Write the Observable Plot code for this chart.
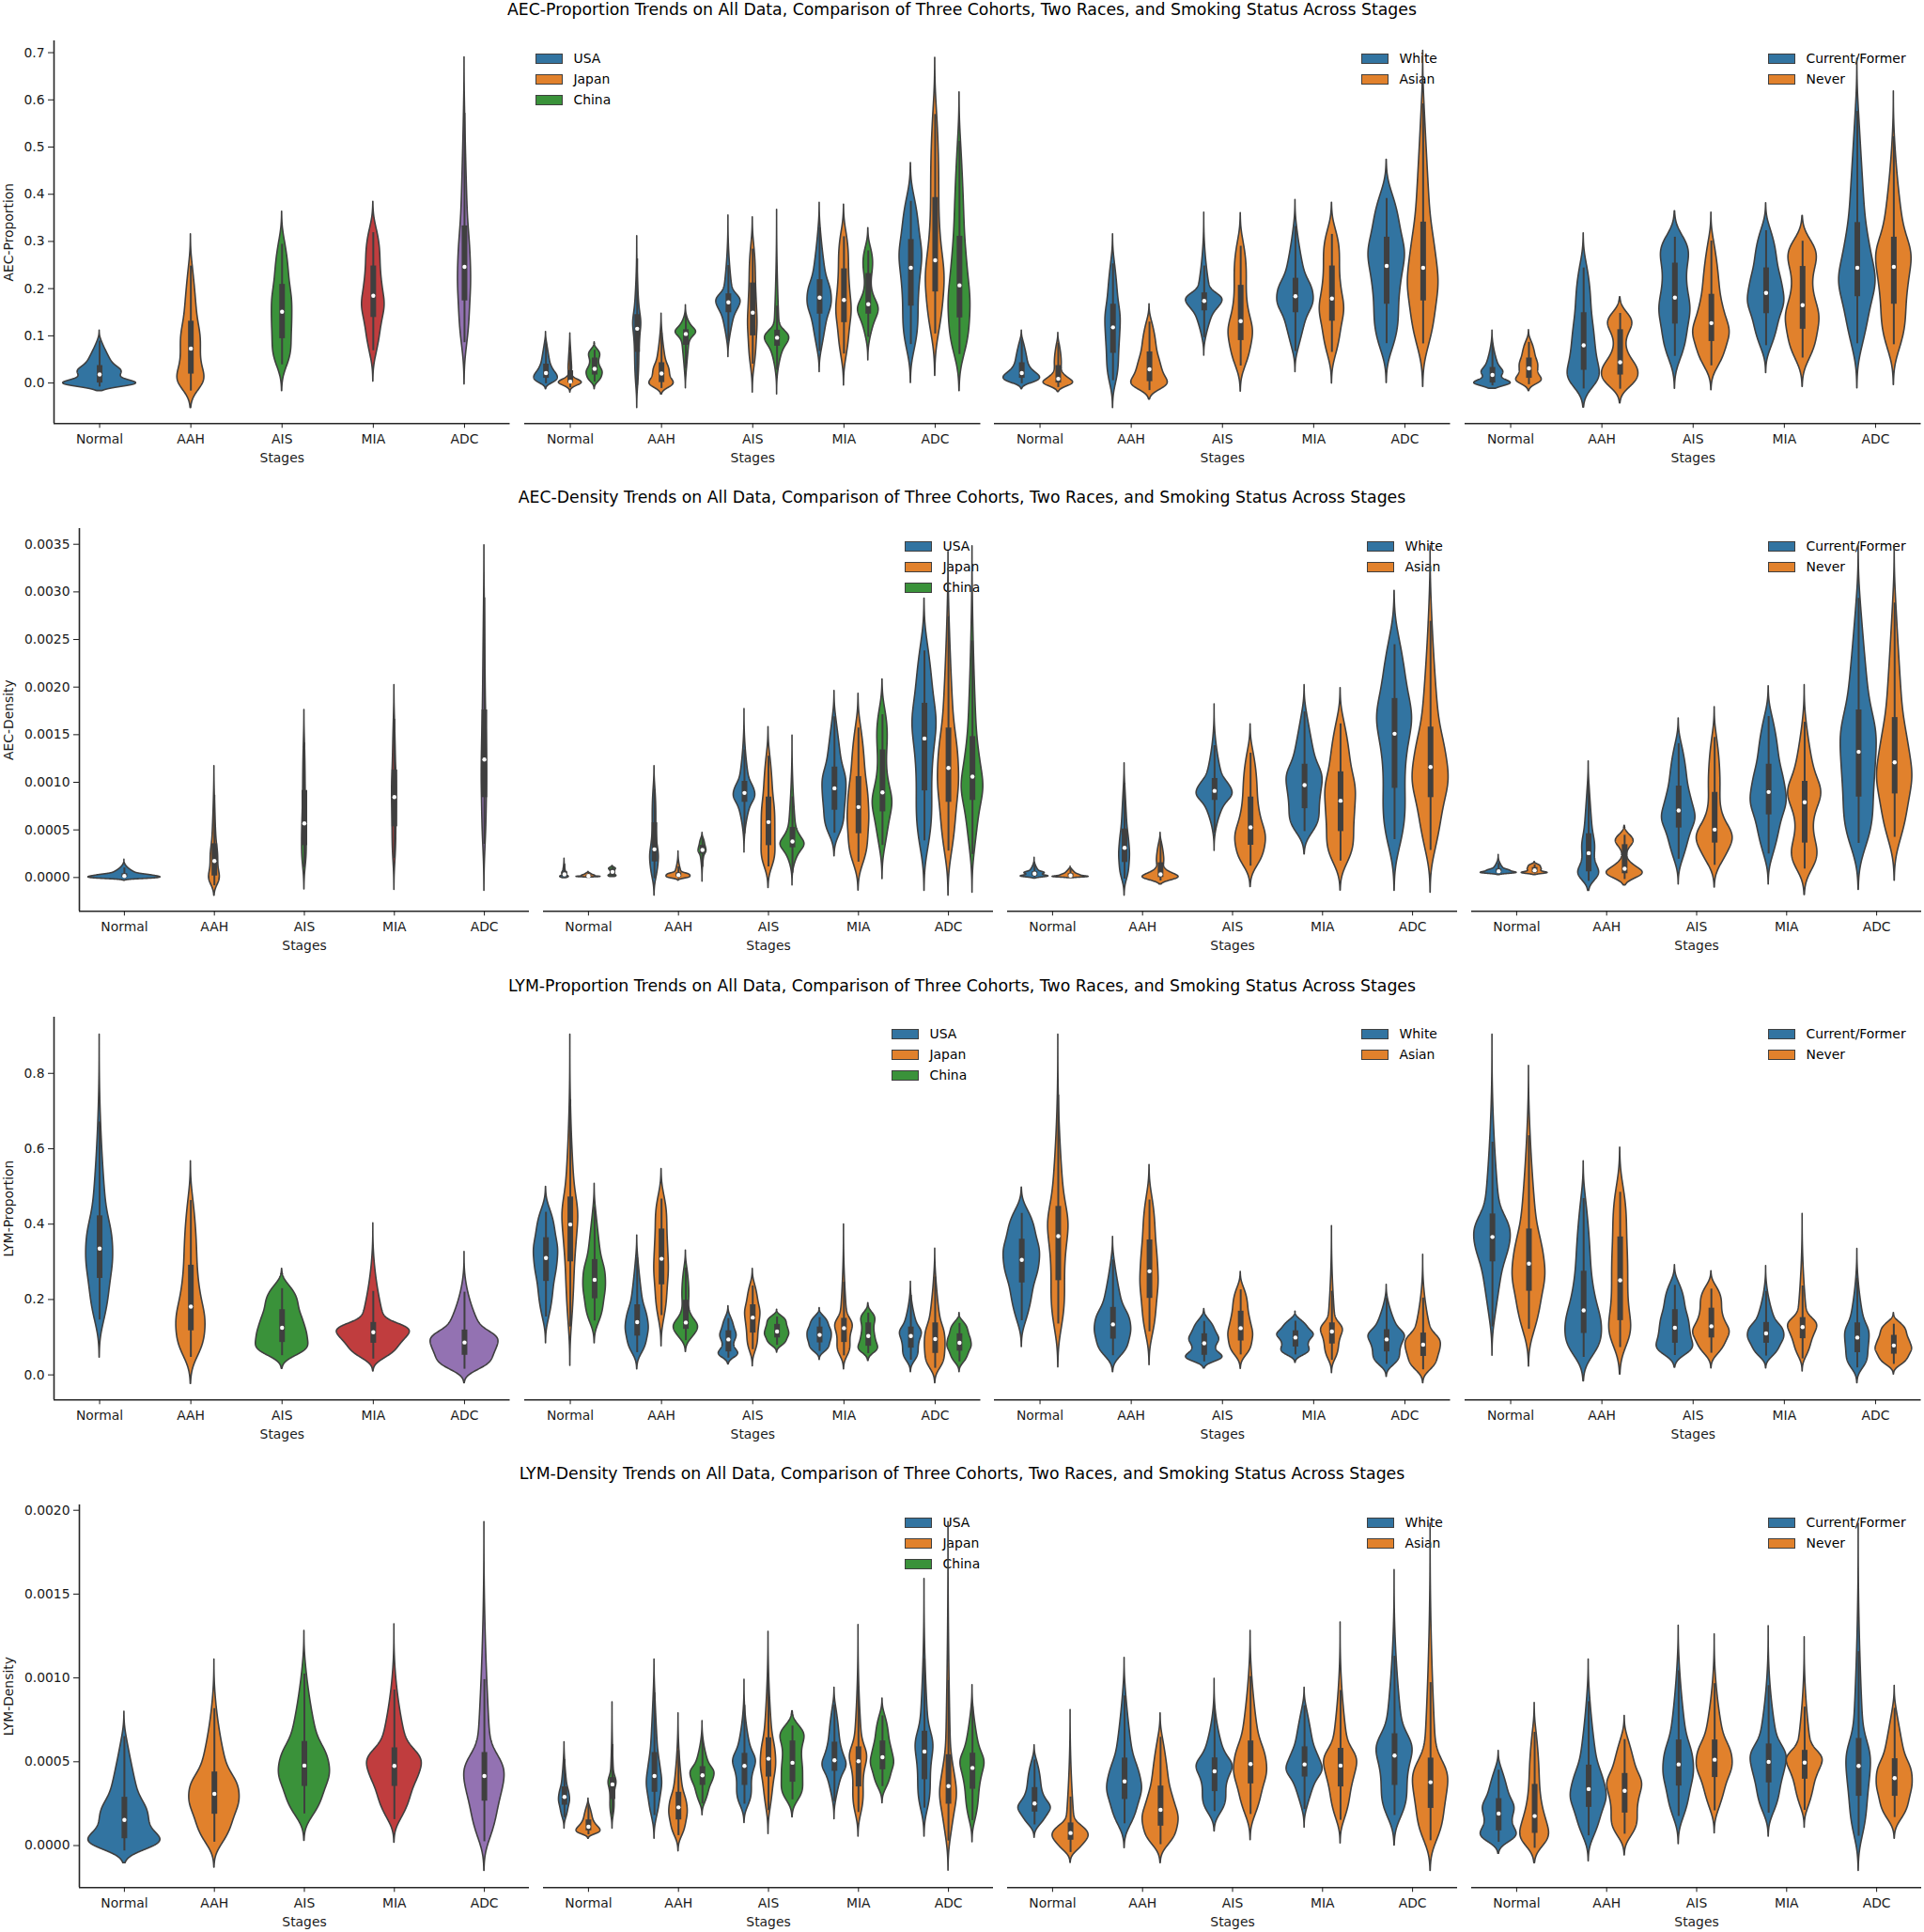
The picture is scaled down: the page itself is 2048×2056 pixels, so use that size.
<!DOCTYPE html>
<html><head><meta charset="utf-8">
<script src="https://cdn.jsdelivr.net/npm/d3@7"></script>
<script src="https://cdn.jsdelivr.net/npm/@observablehq/plot@0.6"></script>
<style>
body{margin:0;background:#fff;}
#fig{position:relative;width:2048px;height:2056px;font-family:"DejaVu Sans",sans-serif;color:#000;background:#fff;overflow:hidden;}
.title{position:absolute;left:0;width:2048px;text-align:center;font-size:17.3px;line-height:20px;white-space:nowrap;}
.panel{position:absolute;}
.lp{position:absolute;width:29px;height:11px;box-sizing:border-box;border:1px solid #3f3f3f;}
.lt{position:absolute;font-size:13.9px;line-height:16px;white-space:nowrap;}
</style></head><body><div id="fig"></div>
<script>
// ---- categories ----
const stages = ["Normal", "AAH", "AIS", "MIA", "ADC"];
const cohorts = ["USA", "Japan", "China"];
const races = ["White", "Asian"];
const smoking = ["Current/Former", "Never"];
const palette = ["#3274a1", "#e1812c", "#3a923a", "#c03d3e", "#9372b2"];

// ---- each violin, one per stage: [bottom tip, Q1, median, Q3, top tip, widest extent as share of its slot] ----
// AEC-Proportion
const aecPropAll = [[-0.017,0.0,0.018,0.037,0.111,1.0],[-0.053,0.019,0.073,0.131,0.315,0.37],[-0.017,0.094,0.151,0.209,0.363,0.28],[0.003,0.139,0.185,0.248,0.384,0.31],[-0.003,0.174,0.246,0.333,0.690,0.18]];
const aecPropUSA = [[-0.013,0.010,0.021,0.040,0.108,0.97],[-0.053,0.065,0.115,0.145,0.311,0.33],[0.055,0.149,0.171,0.189,0.355,1.0],[0.023,0.146,0.181,0.219,0.382,1.0],[0.0,0.163,0.244,0.304,0.466,0.93]];
const aecPropJapan = [[-0.020,0.0,0.003,0.026,0.105,0.94],[-0.024,0.001,0.020,0.043,0.147,1.0],[-0.020,0.100,0.149,0.212,0.351,0.39],[-0.005,0.128,0.176,0.242,0.378,0.63],[0.015,0.193,0.260,0.393,0.689,0.77]];
const aecPropChina = [[-0.013,0.017,0.030,0.053,0.086,0.66],[-0.011,0.080,0.104,0.113,0.165,0.84],[-0.024,0.078,0.096,0.112,0.367,1.0],[0.048,0.146,0.167,0.232,0.328,0.85],[-0.017,0.138,0.207,0.311,0.616,0.9]];
const aecPropWhite = [[-0.013,0.010,0.021,0.043,0.111,1.0],[-0.053,0.063,0.118,0.167,0.315,0.42],[0.058,0.153,0.174,0.191,0.361,1.0],[0.023,0.149,0.184,0.222,0.388,1.0],[0.0,0.167,0.248,0.309,0.473,1.0]];
const aecPropAsian = [[-0.019,0.0,0.009,0.037,0.106,0.81],[-0.035,0.003,0.029,0.066,0.167,1.0],[-0.018,0.090,0.131,0.207,0.360,0.67],[-0.001,0.131,0.179,0.248,0.382,0.67],[-0.008,0.174,0.244,0.341,0.704,0.84]];
const aecPropSmoker = [[-0.012,0.0,0.017,0.033,0.111,1.0],[-0.052,0.027,0.080,0.149,0.317,0.88],[-0.012,0.125,0.181,0.254,0.364,0.85],[0.021,0.147,0.191,0.244,0.381,1.0],[-0.011,0.183,0.244,0.340,0.687,1.0]];
const aecPropNever = [[-0.017,0.010,0.031,0.053,0.112,0.7],[-0.043,0.017,0.044,0.113,0.182,1.0],[-0.015,0.088,0.127,0.188,0.361,1.0],[-0.008,0.114,0.165,0.247,0.354,0.92],[-0.004,0.167,0.246,0.309,0.618,0.97]];
// AEC-Density
const aecDensAll = [[-0.000033,0.0,0.000016,0.00004,0.000187,1.0],[-0.00019,0.000016,0.000174,0.000355,0.00117,0.15],[-0.000125,0.000335,0.000569,0.000914,0.00176,0.065],[-0.00013,0.000533,0.000845,0.00113,0.00202,0.065],[-0.00014,0.000839,0.00124,0.00176,0.00349,0.075]];
const aecDensUSA = [[-0.000007,0.000007,0.000033,0.00006,0.000197,0.36],[-0.00019,0.000164,0.000296,0.000575,0.00117,0.36],[0.000263,0.00079,0.000888,0.00101,0.00177,0.9],[0.000224,0.000707,0.000937,0.00116,0.00196,1.0],[-0.00014,0.00091,0.00146,0.00183,0.00293,1.0]];
const aecDensJapan = [[0.0,0.000007,0.000016,0.000026,0.00006,1.0],[-0.000033,0.000007,0.000026,0.000049,0.000273,1.0],[-0.000109,0.000335,0.000582,0.000845,0.00158,0.58],[-0.000138,0.00046,0.00074,0.00106,0.00193,0.9],[-0.00019,0.00079,0.00115,0.00157,0.00342,0.88]];
const aecDensChina = [[0.000007,0.000016,0.000059,0.000089,0.000122,0.33],[-0.000043,0.000247,0.00029,0.000339,0.00047,0.33],[-0.000082,0.000312,0.000378,0.000526,0.00149,1.0],[-0.000016,0.00069,0.000894,0.00134,0.00208,0.82],[-0.00016,0.00081,0.00106,0.00148,0.00348,0.9]];
const aecDensWhite = [[-0.00001,0.000013,0.00004,0.00006,0.000207,0.77],[-0.00019,0.000158,0.000312,0.00051,0.0012,0.3],[0.00028,0.00081,0.00091,0.00104,0.00182,1.0],[0.000243,0.000723,0.00097,0.00119,0.00202,1.0],[-0.00014,0.000937,0.00151,0.00188,0.00301,0.97]];
const aecDensAsian = [[-0.000007,0.000007,0.00002,0.00004,0.000115,1.0],[-0.000072,0.0,0.000033,0.000155,0.00047,1.0],[-0.0001,0.000339,0.000526,0.000845,0.00161,0.85],[-0.000138,0.000483,0.000806,0.00111,0.00199,0.85],[-0.00016,0.000839,0.00116,0.00158,0.00348,1.0]];
const aecDensSmoker = [[0.000026,0.000049,0.000066,0.000089,0.000237,1.0],[-0.00014,0.00006,0.000256,0.00046,0.00122,0.58],[-0.000072,0.00052,0.000704,0.00096,0.00167,0.93],[-0.000072,0.000658,0.000898,0.00119,0.00201,1.0],[-0.00013,0.000845,0.00132,0.00176,0.00348,1.0]];
const aecDensNever = [[0.000026,0.000049,0.000076,0.000105,0.000164,0.72],[-0.000082,0.00004,0.000092,0.000345,0.000542,1.0],[-0.000105,0.000362,0.000503,0.000894,0.00179,1.0],[-0.000184,0.000362,0.00079,0.00101,0.00202,0.92],[-0.000033,0.000878,0.00121,0.00168,0.00348,0.98]];
// LYM-Proportion
const lymPropAll = [[0.046,0.256,0.335,0.422,0.903,0.37],[-0.024,0.117,0.181,0.291,0.567,0.40],[0.016,0.086,0.125,0.173,0.281,0.72],[0.009,0.084,0.113,0.139,0.402,1.0],[-0.022,0.052,0.086,0.119,0.326,0.93]];
const lymPropUSA = [[0.084,0.248,0.31,0.364,0.499,1.0],[0.015,0.103,0.140,0.186,0.370,0.95],[0.028,0.061,0.094,0.117,0.182,0.8],[0.040,0.085,0.106,0.127,0.177,1.0],[0.007,0.071,0.103,0.127,0.247,0.9]];
const lymPropJapan = [[0.024,0.30,0.399,0.472,0.903,0.65],[0.076,0.239,0.308,0.387,0.546,0.6],[0.023,0.111,0.152,0.186,0.281,0.63],[0.015,0.086,0.124,0.150,0.399,0.72],[-0.022,0.057,0.095,0.138,0.335,0.85]];
const lymPropChina = [[0.084,0.202,0.252,0.306,0.507,0.93],[0.061,0.121,0.139,0.198,0.330,1.0],[0.059,0.098,0.115,0.134,0.173,1.0],[0.037,0.076,0.103,0.138,0.190,0.8],[0.007,0.063,0.085,0.109,0.164,1.0]];
const lymPropWhite = [[0.074,0.244,0.305,0.360,0.497,1.0],[0.007,0.095,0.134,0.179,0.366,1.0],[0.017,0.052,0.084,0.109,0.175,1.0],[0.032,0.074,0.099,0.117,0.168,1.0],[-0.005,0.061,0.094,0.120,0.239,1.0]];
const lymPropAsian = [[0.020,0.250,0.368,0.447,0.903,0.56],[0.026,0.203,0.275,0.358,0.557,0.5],[0.016,0.090,0.124,0.169,0.273,0.68],[0.005,0.082,0.115,0.138,0.395,0.6],[-0.022,0.049,0.080,0.111,0.319,0.97]];
const lymPropSmoker = [[0.051,0.30,0.366,0.427,0.903,1.0],[-0.017,0.110,0.171,0.275,0.567,1.0],[0.019,0.084,0.125,0.173,0.291,1.0],[0.017,0.084,0.110,0.139,0.289,1.0],[-0.022,0.059,0.099,0.138,0.334,0.67]];
const lymPropNever = [[0.022,0.222,0.295,0.387,0.820,0.9],[0.001,0.144,0.251,0.366,0.603,0.6],[0.017,0.098,0.129,0.177,0.275,1.0],[0.009,0.096,0.127,0.152,0.427,0.8],[0.001,0.055,0.078,0.105,0.164,1.0]];
// LYM-Density
const lymDensAll = [[-0.000105,0.000041,0.000153,0.000288,0.000798,1.0],[-0.000131,0.000187,0.000308,0.000439,0.00111,0.70],[0.000028,0.000353,0.000477,0.000621,0.00128,0.71],[0.000017,0.000353,0.000475,0.000583,0.00132,0.76],[-0.000151,0.000265,0.000415,0.000555,0.00193,0.56]];
const lymDensUSA = [[0.000101,0.000241,0.00029,0.00035,0.000617,0.46],[0.000041,0.000318,0.000415,0.000555,0.00111,0.64],[0.000135,0.000359,0.000475,0.00055,0.000989,0.95],[0.000157,0.000443,0.000509,0.000617,0.000942,1.0],[0.000054,0.000393,0.000561,0.000682,0.00159,0.74]];
const lymDensJapan = [[0.000041,0.000088,0.000112,0.000153,0.00028,1.0],[-0.000034,0.000153,0.000228,0.000318,0.000789,0.77],[0.000069,0.000409,0.000518,0.000643,0.001275,0.64],[0.000054,0.00035,0.000503,0.000589,0.001316,0.72],[-0.00015,0.000247,0.000355,0.000542,0.00193,0.7]];
const lymDensChina = [[0.000101,0.000275,0.000365,0.000406,0.000854,0.33],[0.000181,0.000359,0.000419,0.000471,0.000742,1.0],[0.000168,0.000378,0.000494,0.000624,0.000802,1.0],[0.000252,0.000452,0.000527,0.000624,0.000877,0.97],[0.00002,0.000336,0.000463,0.000551,0.000957,1.0]];
const lymDensWhite = [[0.000047,0.0002,0.000251,0.000346,0.000598,0.9],[-0.000015,0.000275,0.000383,0.000522,0.00112,0.97],[0.000084,0.000322,0.000443,0.000523,0.000995,1.0],[0.000107,0.000409,0.000484,0.000589,0.000942,1.0],[0.0,0.000359,0.000537,0.000667,0.001643,1.0]];
const lymDensAsian = [[-0.000103,0.000032,0.000075,0.000135,0.000808,1.0],[-0.000105,0.000116,0.000213,0.000355,0.000789,1.0],[0.000032,0.000368,0.000486,0.000624,0.00128,0.92],[0.000013,0.00035,0.000477,0.00058,0.001331,0.92],[-0.000151,0.000222,0.000378,0.000522,0.00192,0.98]];
const lymDensSmoker = [[-0.000049,0.000088,0.000191,0.00028,0.000565,1.0],[-0.000093,0.000228,0.000337,0.00048,0.00111,1.0],[0.000009,0.000355,0.000484,0.00063,0.001312,0.85],[0.000054,0.000374,0.000499,0.000606,0.001309,1.0],[-0.000151,0.000294,0.000475,0.000639,0.00192,0.68]];
const lymDensNever = [[-0.000105,0.000073,0.000176,0.000365,0.000851,0.8],[-0.000058,0.000194,0.000327,0.00043,0.000774,0.97],[0.000073,0.000406,0.000512,0.00063,0.00126,1.0],[0.000107,0.000396,0.000495,0.000568,0.001243,1.0],[0.000041,0.000294,0.000402,0.000518,0.000953,1.0]];

// ---- axis ticks per row ----
const aecPropTicks = [0, 0.1, 0.2, 0.3, 0.4, 0.5, 0.6, 0.7];
const aecDensTicks = [0, 0.0005, 0.001, 0.0015, 0.002, 0.0025, 0.003, 0.0035];
const lymPropTicks = [0, 0.2, 0.4, 0.6, 0.8];
const lymDensTicks = [0, 0.0005, 0.001, 0.0015, 0.002];

const suffix = " Trends on All Data, Comparison of Three Cohorts, Two Races, and Smoking Status Across Stages";
const rows = [
  {name: "AEC-Proportion", domain: [-0.086, 0.725], ticks: aecPropTicks, digits: 1,
   lefts: [57, 557.5, 1058, 1559], fw: 485.5, legendX: [570, 1449, 1882],
   all: aecPropAll, coh: [aecPropUSA, aecPropJapan, aecPropChina], race: [aecPropWhite, aecPropAsian], smk: [aecPropSmoker, aecPropNever]},
  {name: "AEC-Density", domain: [-0.000355, 0.003665], ticks: aecDensTicks, digits: 4,
   lefts: [84, 578, 1072, 1566], fw: 479, legendX: [963, 1455, 1882],
   all: aecDensAll, coh: [aecDensUSA, aecDensJapan, aecDensChina], race: [aecDensWhite, aecDensAsian], smk: [aecDensSmoker, aecDensNever]},
  {name: "LYM-Proportion", domain: [-0.0665, 0.949], ticks: lymPropTicks, digits: 1,
   lefts: [57, 557.5, 1058, 1559], fw: 485.5, legendX: [949, 1449, 1882],
   all: lymPropAll, coh: [lymPropUSA, lymPropJapan, lymPropChina], race: [lymPropWhite, lymPropAsian], smk: [lymPropSmoker, lymPropNever]},
  {name: "LYM-Density", domain: [-0.000251, 0.002032], ticks: lymDensTicks, digits: 4,
   lefts: [84, 578, 1072, 1566], fw: 479, legendX: [963, 1455, 1882],
   all: lymDensAll, coh: [lymDensUSA, lymDensJapan, lymDensChina], race: [lymDensWhite, lymDensAsian], smk: [lymDensSmoker, lymDensNever]}
];

// outline shape from the read values: monotone Hermite CDF through the quartiles,
// differentiated, then smoothed with a Gaussian kernel so the tips taper like a KDE
function profile(st) {
  const x = st.slice(0, 5);
  const eps = (x[4] - x[0]) * 1e-3;
  for (let i = 1; i < 5; i++) if (x[i] <= x[i - 1]) x[i] = x[i - 1] + eps;
  const sig = 0.12 * (x[3] - x[1]) + 0.015 * (x[4] - x[0]);
  const k = x.slice();
  k[0] += Math.min(1.8 * sig, 0.6 * (x[1] - x[0]));
  k[4] -= Math.min(1.8 * sig, 0.6 * (x[4] - x[3]));
  const s = [0, 1, 2, 3].map(i => 0.25 / (k[i + 1] - k[i]));
  const m = [0, 0, 0, 0, 0];
  for (let i = 1; i < 4; i++) m[i] = Math.min(3 * Math.min(s[i - 1], s[i]), (s[i - 1] + s[i]) / 2);
  const raw = y => {
    if (y <= k[0] || y >= k[4]) return 0;
    let i = 0;
    while (i < 3 && y > k[i + 1]) i++;
    const t = (y - k[i]) / (k[i + 1] - k[i]);
    return Math.max(0, 6 * s[i] * t * (1 - t) + m[i] * (3 * t * t - 4 * t + 1) + m[i + 1] * (3 * t * t - 2 * t));
  };
  const N = 260;
  const lo = x[0], hi = x[4], dy = (hi - lo) / (N - 1);
  const ys = d3.range(N).map(j => lo + j * dy);
  const r = ys.map(raw);
  const span = Math.ceil(4 * sig / dy);
  return ys.map((y, q) => {
    let acc = 0;
    for (let j = Math.max(0, q - span); j <= Math.min(N - 1, q + span); j++) {
      const u = (ys[j] - y) / sig;
      acc += r[j] * Math.exp(-0.5 * u * u);
    }
    return {y, d: acc};
  });
}

const fig = document.getElementById("fig");
const ROW = 519.4, AXTOP = 42.7, FH = 407.3;
const MT = 8, MB = 60, MR = 3;
const gray = "#3f3f3f";

rows.forEach((row, r) => {
  const top = r * ROW;
  const t = document.createElement("div");
  t.className = "title";
  t.style.top = (top + 0) + "px";
  t.textContent = row.name + suffix;
  fig.appendChild(t);

  const panels = [
    {series: [row.all], names: null, colors: palette, single: true},
    {series: row.coh, names: cohorts, colors: palette.slice(0, 3)},
    {series: row.race, names: races, colors: palette.slice(0, 2)},
    {series: row.smk, names: smoking, colors: palette.slice(0, 2)}
  ];

  panels.forEach((pn, p) => {
    const first = p === 0;
    const nh = pn.single ? 1 : pn.series.length;
    const hw = 0.4 / nh;
    const vios = [];
    const pts = [];
    stages.forEach((stg, i) => {
      pn.series.forEach((ser, j) => {
        const st = ser[i];
        const xc = pn.single ? i : i + (j - (nh - 1) / 2) * (0.8 / nh);
        const fill = pn.single ? palette[i] : pn.colors[j];
        const iqr = st[3] - st[1];
        const dmin = st[0] + Math.min(0.6 * iqr, 0.5 * (st[1] - st[0]));
        const dmax = st[4] - Math.min(0.6 * iqr, 0.5 * (st[4] - st[3]));
        const wlo = Math.min(st[1], Math.max(st[1] - 1.5 * iqr, dmin));
        const whi = Math.max(st[3], Math.min(st[3] + 1.5 * iqr, dmax));
        const id = i + "-" + j;
        const prof = profile(st);
        const mx = d3.max(prof, q => q.d);
        prof.forEach(q => {
          const w = q.d / mx * st[5] * hw;
          pts.push({id, y: q.y, x1: xc - w, x2: xc + w, fill});
        });
        vios.push({id, xc, fill, q1: st[1], med: st[2], q3: st[3], wlo, whi});
      });
    });

    const left = row.lefts[p];
    const ML = first ? left : 3;
    const marks = [
      Plot.areaX(pts, {y: "y", x1: "x1", x2: "x2", z: "id", fill: "fill", stroke: gray, strokeWidth: 1.6, strokeLinejoin: "round"}),
      Plot.ruleX(vios, {x: "xc", y1: "wlo", y2: "whi", stroke: gray, strokeWidth: 2}),
      Plot.ruleX(vios, {x: "xc", y1: "q1", y2: "q3", stroke: gray, strokeWidth: 6}),
      Plot.dot(vios, {x: "xc", y: "med", r: 2.2, fill: "white"}),
      Plot.ruleY([row.domain[0]], {stroke: "#262626", strokeWidth: 1.6}),
      Plot.axisX({ticks: [0, 1, 2, 3, 4], tickFormat: q => stages[q], tickSize: 5, tickPadding: 6.5, label: null}),
      Plot.text(["Stages"], {frameAnchor: "bottom", dy: 37, text: d => d, fontSize: 13.9, textAnchor: "middle", lineAnchor: "middle"})
    ];
    if (first) {
      marks.push(
        Plot.ruleX([-0.5], {stroke: "#262626", strokeWidth: 1.6}),
        Plot.axisY({ticks: row.ticks, tickFormat: d => d.toFixed(row.digits), tickSize: 6, tickPadding: 4, label: null}),
        Plot.text([row.name], {frameAnchor: "left", dx: -(left - 9), rotate: -90, text: d => d, fontSize: 13.9, textAnchor: "middle", lineAnchor: "middle"})
      );
    }
    const chart = Plot.plot({
      width: ML + row.fw + MR,
      height: MT + FH + MB,
      marginLeft: ML, marginRight: MR, marginTop: MT, marginBottom: MB,
      x: {domain: [-0.5, 4.5]},
      y: first ? {domain: row.domain} : {domain: row.domain, axis: null},
      color: {type: "identity"},
      style: {fontFamily: "DejaVu Sans", fontSize: "13.9px", color: "#1a1a1a", background: "transparent", overflow: "visible"},
      marks
    });

    // legend (added first so the violins sit above it)
    if (!first) {
      const lx = row.legendX[p - 1];
      pn.names.forEach((nm, j) => {
        const yc = top + AXTOP + 19.3 + 22 * j;
        const pt = document.createElement("div");
        pt.className = "lp";
        pt.style.left = lx + "px";
        pt.style.top = (yc - 5.5) + "px";
        pt.style.background = pn.colors[j];
        fig.appendChild(pt);
        const tx = document.createElement("div");
        tx.className = "lt";
        tx.style.left = (lx + 40.5) + "px";
        tx.style.top = (yc - 8.5) + "px";
        tx.textContent = nm;
        fig.appendChild(tx);
      });
    }
    chart.classList.add("panel");
    chart.style.left = (left - ML) + "px";
    chart.style.top = (top + AXTOP - MT) + "px";
    fig.appendChild(chart);
  });
});
</script></body></html>
